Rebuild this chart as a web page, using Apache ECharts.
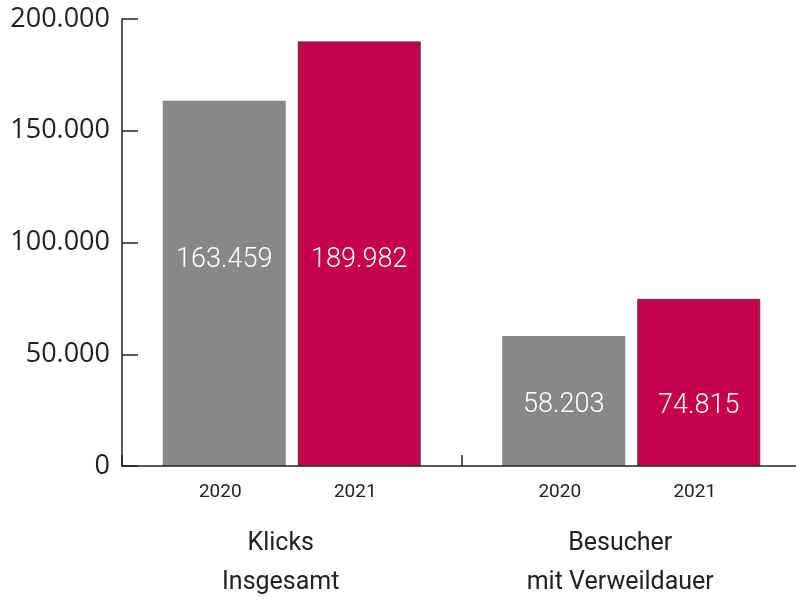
<!DOCTYPE html>
<html>
<head>
<meta charset="utf-8">
<script src="https://cdn.jsdelivr.net/npm/echarts@6/dist/echarts.min.js"></script>
<style>
html,body{margin:0;padding:0;background:#fff;overflow:hidden;}
#chart{width:801px;height:600px;}
</style>
</head>
<body>
<div id="chart"></div>
<script>
// ---- data ----
var categories = ['Klicks\nInsgesamt', 'Besucher\nmit Verweildauer'];
var years = ['2020', '2021'];
var values2020 = [163459, 58203];
var values2021 = [189982, 74815];
var yTicks = [0, 50000, 100000, 150000, 200000];

// ---- styles ----
var GRAY = '#888888';
var CRIMSON = '#C6004B';
var AXIS = '#222222';
var FONT = 'Roboto, "Liberation Sans", sans-serif';
// vertical anchor of value label inside each bar (percent of bar height from top)
var labelY2020 = ['43.6%', '53%'];
var labelY2021 = ['51.5%', '64%'];

function fmt(v) {
  return String(v).replace(/\B(?=(\d{3})+(?!\d))/g, '.');
}

function buildSeries(name, values, color, labelY, border) {
  return {
    name: name,
    type: 'bar',
    barWidth: 123,
    barGap: '9.76%',
    data: values.map(function (v, i) {
      return {
        value: v,
        label: { position: ['50%', labelY[i]] }
      };
    }),
    itemStyle: {
      color: color,
      borderColor: border ? '#4a4045' : color,
      borderWidth: border ? 1 : 0
    },
    label: {
      show: true,
      align: 'center',
      verticalAlign: 'middle',
      color: '#ffffff',
      fontFamily: FONT,
      fontWeight: 300,
      fontSize: 27,
      formatter: function (p) { return fmt(p.value); }
    },
    emphasis: { disabled: true }
  };
}

var chart = echarts.init(document.getElementById('chart'));
chart.setOption({
  animation: false,
  grid: { left: 122, right: 0, top: 19, bottom: 134, containLabel: false },
  xAxis: {
    type: 'category',
    data: categories,
    z: 5,
    axisLine: { show: true, lineStyle: { color: AXIS, width: 1.5 } },
    axisTick: { show: true, inside: true, length: 11, lineStyle: { color: AXIS, width: 1.5 } },
    axisLabel: {
      interval: 0,
      margin: 13.5,
      padding: [0, 22, 0, 0],
      formatter: function (val) {
        var lines = val.split('\n');
        return '{p| }' + years.map(function (y) { return '{y|' + y + '}'; }).join('') +
          '\n{s| }\n' + lines.map(function (l) { return '{c|' + l + '}'; }).join('\n');
      },
      rich: {
        p: { width: 14, fontSize: 1, lineHeight: 26 },
        y: { width: 135, align: 'center', fontFamily: FONT, fontSize: 19, color: '#222', lineHeight: 26 },
        s: { fontSize: 1, lineHeight: 19 },
        c: { fontFamily: FONT, fontSize: 25, color: '#222', lineHeight: 39 }
      }
    }
  },
  yAxis: {
    type: 'value',
    min: yTicks[0],
    max: yTicks[yTicks.length - 1],
    interval: yTicks[1] - yTicks[0],
    z: 5,
    splitLine: { show: false },
    axisLine: { show: true, lineStyle: { color: AXIS, width: 1.5 } },
    axisTick: { show: true, inside: true, length: 16, lineStyle: { color: AXIS, width: 1.5 } },
    axisLabel: {
      margin: 12,
      fontFamily: '"Open Sans", sans-serif',
      fontSize: 27,
      color: '#222',
      formatter: function (v) { return fmt(v); }
    }
  },
  series: [
    buildSeries(years[0], values2020, GRAY, labelY2020, false),
    buildSeries(years[1], values2021, CRIMSON, labelY2021, true)
  ]
});
</script>
</body>
</html>
